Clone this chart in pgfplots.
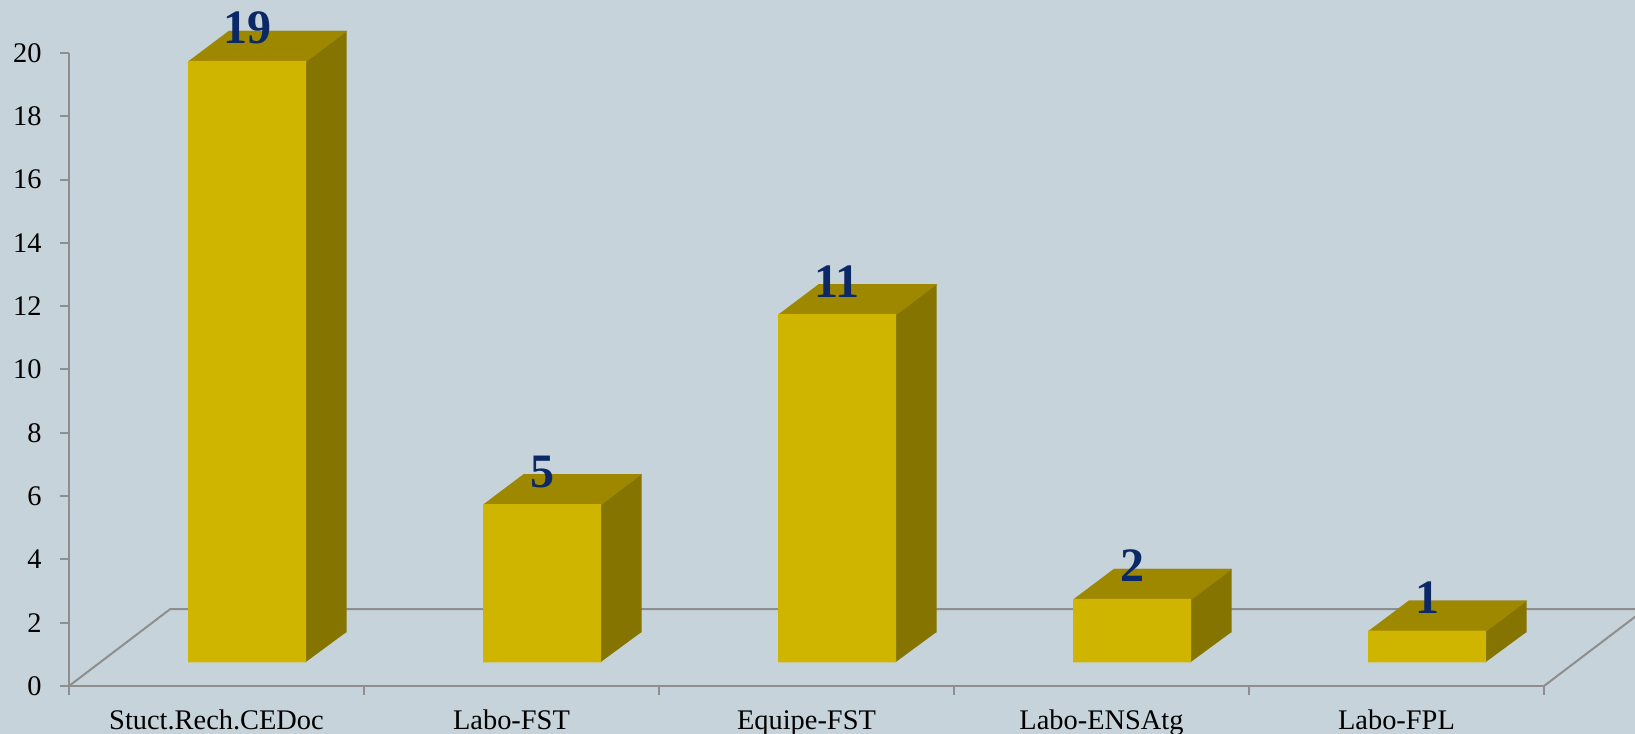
\documentclass[border=0pt]{standalone}
\usepackage{fontspec}
\setmainfont{Liberation Serif}
\usepackage{pgfplots}
\usepackage{pgfplotstable}
\pgfplotsset{compat=1.18}
\definecolor{bg}{RGB}{198,211,218}
\definecolor{front}{RGB}{207,181,0}
\definecolor{topc}{RGB}{158,136,0}
\definecolor{side}{RGB}{133,117,0}
\definecolor{axg}{RGB}{142,142,142}
\definecolor{navy}{RGB}{11,40,103}

\pgfplotstableread{
x v
0 19
1 5
2 11
3 2
4 1
}\data

\pgfdeclareplotmark{topface}{%
  \pgfsetfillcolor{topc}%
  \pgfpathmoveto{\pgfpoint{-29.5pt}{-0.3pt}}%
  \pgfpathlineto{\pgfpoint{29.8pt}{-0.3pt}}%
  \pgfpathlineto{\pgfpoint{50.1pt}{15pt}}%
  \pgfpathlineto{\pgfpoint{-9.15pt}{15pt}}%
  \pgfpathclose
  \pgfusepathqfill}
\pgfdeclareplotmark{sidetri}{%
  \pgfsetfillcolor{side}%
  \pgfpathmoveto{\pgfpoint{29.2pt}{0pt}}%
  \pgfpathlineto{\pgfpoint{49.85pt}{15.2pt}}%
  \pgfpathlineto{\pgfpoint{29.2pt}{15.2pt}}%
  \pgfpathclose
  \pgfusepathqfill}

\pgfplotsset{base/.style={scale only axis, width=737.5pt, height=316.5pt,
  at={(0,0)}, anchor=south west},
  front axis/.style={base, hide axis, clip=false,
  xmin=-0.6034, xmax=4.3966, ymin=-0.749, ymax=19.251}}

\begin{document}
\begin{tikzpicture}
\fill[bg] (-34.5pt,-24pt) rectangle (783pt,343pt);
% axis, floor and labels
\begin{axis}[base, xmin=-0.5, xmax=4.5, ymin=0, ymax=20, clip=false,
  axis x line*=bottom, axis y line*=left,
  axis line style={draw=axg, line width=1pt},
  tick style={draw=axg, line width=1pt},
  tick align=outside, major tick length=4.5pt,
  ytick={0,2,...,20},
  xtick={-0.5,0.5,1.5,2.5,3.5,4.5},
  x tick label as interval,
  xticklabels={Stuct.Rech.CEDoc,Labo-FST,Equipe-FST,Labo-ENSAtg,Labo-FPL},
  ticklabel style={font=\fontsize{14.2}{16}\selectfont, text=black},
  yticklabel style={anchor=east, inner sep=0pt, xshift=-9pt},
  xticklabel style={anchor=base, inner sep=0pt, yshift=-17.3pt},
  /pgf/number format/assume math mode=true,
]
\draw[axg, line width=1pt] (axis cs:-0.5,0) -- (axis cs:-0.1576,2.425)
   -- (axis cs:4.8424,2.425) -- (axis cs:4.5,0);
\end{axis}
% back (side) faces
\begin{axis}[base, hide axis, clip=false, xmin=-0.7414, xmax=4.2586, ymin=-1.698, ymax=18.302]
\addplot[ybar, bar width=0.4, fill=side, draw=none] table[x=x,y=v]{\data};
\end{axis}
% side triangles and top faces
\begin{axis}[front axis]
\addplot[only marks, mark=sidetri] table[x=x,y expr=0]{\data};
\addplot[only marks, mark=topface] table[x=x,y=v]{\data};
\end{axis}
% front faces and value labels
\begin{axis}[front axis, /pgf/number format/assume math mode=true]
\addplot[ybar, bar width=0.4, fill=front, draw=none] table[x=x,y=v]{\data};
\addplot[only marks, mark=none, nodes near coords,
  nodes near coords style={font=\fontsize{24}{26}\selectfont\bfseries, text=navy,
    anchor=base, inner sep=0pt, yshift=8.5pt}] table[x=x,y=v]{\data};
\end{axis}
\pgfresetboundingbox
\useasboundingbox (-34.5pt,-24pt) rectangle (783pt,343pt);
\end{tikzpicture}
\end{document}
